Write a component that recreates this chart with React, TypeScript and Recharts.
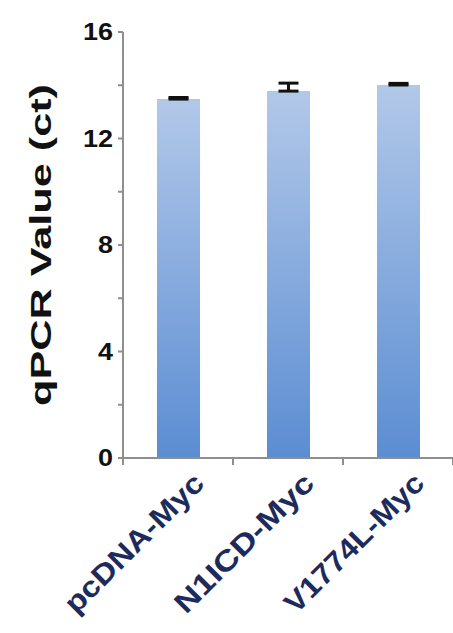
import { BarChart, Bar, XAxis, YAxis, ErrorBar, Cell } from 'recharts'

const categories = ['pcDNA-Myc', 'N1ICD-Myc', 'V1774L-Myc']
const ctValues = [13.48, 13.78, 14.01]
const ctErrors = [0.06, 0.3, 0.06]
const yTicks = [0, 2, 4, 6, 8, 10, 12, 14, 16]
const yLabel = 'qPCR Value (ct)'

const data = categories.map((name, i) => ({
  name,
  ct: ctValues[i],
  err: [0, ctErrors[i]],
}))

const FONT = '"Liberation Sans", Arial, sans-serif'
const AXIS = '#8f8f8f'

function YTick(props: any) {
  const { x, y, payload } = props
  if (payload.value % 4 !== 0) return null
  const s = String(payload.value)
  return (
    <text
      x={x}
      y={y}
      dy={8}
      textAnchor="end"
      fontFamily={FONT}
      fontWeight="bold"
      fontSize={23}
      fill="#111"
      textLength={s.length * 15}
      lengthAdjust="spacingAndGlyphs"
    >
      {s}
    </text>
  )
}

function XTick(props: any) {
  const { x, y, payload } = props
  const off = payload.offset ?? 55
  return (
    <g>
      <line x1={x - off} y1={y} x2={x - off} y2={y + 7} stroke={AXIS} strokeWidth={2} />
      <line x1={x + off} y1={y} x2={x + off} y2={y + 7} stroke={AXIS} strokeWidth={2} />
      {/* source figure is stretched, so labels get a fixed length */}
      <text
        transform={`translate(${x + 28}, ${y + 27}) rotate(-45)`}
        textAnchor="end"
        fontFamily={FONT}
        fontWeight="bold"
        fontSize={29}
        fill="#1d2b5c"
        textLength={184}
        lengthAdjust="spacingAndGlyphs"
      >
        {payload.value}
      </text>
    </g>
  )
}

function YLabel() {
  return (
    <text
      transform="translate(51, 245) rotate(-90)"
      textAnchor="middle"
      fontFamily={FONT}
      fontWeight="bold"
      fontSize={30}
      fill="#111"
      textLength={322}
      lengthAdjust="spacingAndGlyphs"
    >
      {yLabel}
    </text>
  )
}

export default function App() {
  return (
    <div style={{ position: 'absolute', left: 0, top: 0, width: 453, height: 633, background: '#fff' }}>
      <BarChart width={453} height={633} data={data} margin={{ top: 32, right: 0, left: 0, bottom: 0 }}>
        <defs>
          <linearGradient id="barFill" x1="0" y1="0" x2="0" y2="1">
            <stop offset="0%" stopColor="#b2c8e9" />
            <stop offset="100%" stopColor="#5b8dd2" />
          </linearGradient>
        </defs>
        <XAxis
          dataKey="name"
          height={175}
          interval={0}
          tickLine={false}
          tickSize={0}
          tickMargin={0}
          axisLine={{ stroke: AXIS, strokeWidth: 2 }}
          tick={<XTick />}
        />
        <YAxis
          width={123}
          domain={[0, 16]}
          ticks={yTicks}
          interval={0}
          tickSize={5}
          tickMargin={5}
          tickLine={{ stroke: AXIS, strokeWidth: 2 }}
          axisLine={{ stroke: AXIS, strokeWidth: 2 }}
          tick={<YTick />}
          label={{ content: () => <YLabel /> }}
        />
        <Bar dataKey="ct" barSize={43} isAnimationActive={false}>
          {data.map((d) => (
            <Cell key={d.name} fill="url(#barFill)" />
          ))}
          <ErrorBar dataKey="err" width={10} strokeWidth={3} stroke="#111" direction="y" />
        </Bar>
      </BarChart>
    </div>
  )
}
